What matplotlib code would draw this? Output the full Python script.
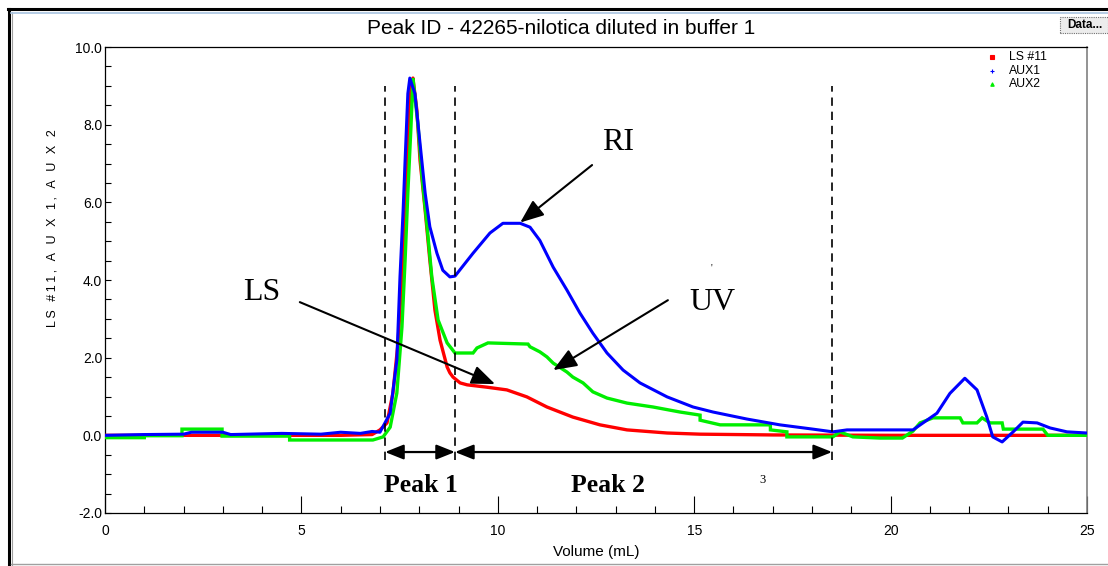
import matplotlib
matplotlib.use("Agg")
import matplotlib.pyplot as plt
from matplotlib.lines import Line2D
from matplotlib.patches import Rectangle
from matplotlib.ticker import MultipleLocator, FormatStrFormatter

W, H = 1108, 566

# ---- LS #11 (light scattering detector) ----
ls_volume = [0.0, 2.0, 4.0, 6.0, 6.8, 7.0, 7.18, 7.33, 7.46, 7.56, 7.64, 7.71, 7.79,
             7.84, 7.94, 8.02, 8.15, 8.27, 8.40, 8.53, 8.71, 8.78, 8.86, 9.04, 9.22,
             9.72, 10.23, 10.74, 11.25, 11.91, 12.60, 13.29, 14.31, 15.15, 17.0, 20.0,
             23.0, 25.0]
ls_signal = [0.0, 0.0, 0.0, 0.0, 0.02, 0.14, 0.32, 1.09, 2.38, 4.08, 5.80, 7.52, 8.96,
             9.20, 8.37, 7.08, 5.80, 4.51, 3.22, 2.45, 1.76, 1.61, 1.50, 1.35, 1.30,
             1.24, 1.17, 0.99, 0.73, 0.47, 0.27, 0.14, 0.06, 0.03, 0.01, 0.0, 0.0, 0.0]

# ---- AUX1 (refractive index detector) ----
ri_volume = [0.0, 1.0, 2.0, 2.2, 3.0, 3.2, 4.5, 5.5, 6.0, 6.5, 6.8, 7.0, 7.26, 7.43,
             7.51, 7.59, 7.64, 7.71, 7.76, 7.89, 8.02, 8.15, 8.27, 8.45, 8.60, 8.78,
             8.91, 9.37, 9.80, 10.13, 10.57, 10.82, 11.07, 11.41, 11.76, 12.09, 12.42,
             12.78, 13.19, 13.62, 14.31, 14.64, 14.97, 15.48, 16.34, 17.18, 18.02,
             18.53, 18.89, 19.73, 20.57, 21.18, 21.51, 21.89, 22.20, 22.45, 22.60,
             22.84, 23.12, 23.37, 23.73, 24.06, 24.49, 25.0]
ri_signal = [0.0, 0.02, 0.03, 0.08, 0.08, 0.02, 0.05, 0.03, 0.08, 0.05, 0.10, 0.08,
             0.57, 1.94, 4.08, 5.80, 7.08, 8.80, 9.20, 8.80, 7.52, 6.24, 5.37, 4.69,
             4.25, 4.08, 4.10, 4.69, 5.21, 5.46, 5.46, 5.36, 5.02, 4.33, 3.74, 3.15,
             2.63, 2.12, 1.68, 1.35, 0.99, 0.86, 0.73, 0.60, 0.42, 0.27, 0.16, 0.09,
             0.14, 0.14, 0.14, 0.57, 1.08, 1.47, 1.17, 0.47, -0.04, -0.17, 0.09, 0.34,
             0.32, 0.19, 0.09, 0.06]

# ---- AUX2 (UV detector, stepped readout) ----
uv_volume = [0.0, 1.0, 1.0, 1.96, 1.96, 2.98, 2.98, 4.70, 4.70, 6.82, 7.08, 7.26, 7.43,
             7.56, 7.64, 7.71, 7.79, 7.84, 7.97, 8.07, 8.20, 8.32, 8.48, 8.71, 8.91,
             9.37, 9.47, 9.75, 10.77, 10.82, 11.07, 11.25, 11.41, 11.76, 11.91, 12.17,
             12.42, 12.78, 13.29, 13.95, 14.64, 15.15, 15.15, 15.66, 16.94, 16.94,
             17.36, 17.36, 18.53, 18.71, 19.04, 19.73, 20.30, 20.57, 20.75, 21.08,
             21.77, 21.84, 22.20, 22.33, 22.53, 22.84, 22.87, 23.88, 24.0, 25.0]
uv_signal = [-0.06, -0.06, -0.01, -0.01, 0.16, 0.16, -0.02, -0.02, -0.12, -0.12, -0.04,
             0.21, 1.09, 2.79, 4.51, 6.24, 7.96, 9.20, 7.96, 6.67, 5.37, 4.08, 2.97,
             2.38, 2.12, 2.12, 2.25, 2.38, 2.35, 2.28, 2.15, 2.02, 1.86, 1.63, 1.50,
             1.35, 1.12, 0.96, 0.83, 0.73, 0.60, 0.52, 0.39, 0.27, 0.27, 0.14, 0.09,
             -0.04, -0.04, 0.09, -0.04, -0.07, -0.07, 0.11, 0.32, 0.45, 0.45, 0.32,
             0.32, 0.45, 0.32, 0.32, 0.16, 0.16, 0.0, 0.0]

# Fraction boundaries (mL)
cut_volumes = [7.13, 8.91, 18.51]
peak_labels = ["Peak 1", "Peak 2"]

series_names = ["LS #11", "AUX1", "AUX2"]
series_colors = ["#ff0000", "#0000ff", "#00ee00"]

plt.rcParams["font.family"] = ["Liberation Sans", "DejaVu Sans"]

fig = plt.figure(figsize=(W / 100, H / 100), dpi=100)
fig.patch.set_facecolor("white")


def fx(px):
    return px / W


def fy(py):
    return 1 - py / H


ax = fig.add_axes([fx(105), fy(513), fx(1087) - fx(105), fy(47) - fy(513)])
ax.set_xlim(0, 25)
ax.set_ylim(-2.0, 10.0)

ax.plot(ls_volume, ls_signal, color=series_colors[0], lw=2.4, zorder=3,
        solid_joinstyle="round")
ax.plot(uv_volume, uv_signal, color=series_colors[2], lw=2.4, zorder=4,
        solid_joinstyle="miter")
ax.plot(ri_volume, ri_signal, color=series_colors[1], lw=2.2, zorder=5,
        solid_joinstyle="round")

# ticks
ax.xaxis.set_major_locator(MultipleLocator(5))
ax.xaxis.set_minor_locator(MultipleLocator(1))
ax.yaxis.set_major_locator(MultipleLocator(2))
ax.yaxis.set_minor_locator(MultipleLocator(0.5))
ax.yaxis.set_major_formatter(FormatStrFormatter("%.1f"))
ax.tick_params(axis="x", which="major", direction="in", length=12, width=0.8,
               labelsize=10, pad=8)
ax.tick_params(axis="x", which="minor", direction="in", length=5, width=0.8)
ax.tick_params(axis="y", which="both", direction="in", length=4.3, width=0.8,
               labelsize=10, pad=2)
for s in ["left", "bottom", "top"]:
    ax.spines[s].set_color("black")
    ax.spines[s].set_linewidth(0.9)
ax.spines["right"].set_color("#808080")
ax.spines["right"].set_linewidth(1.2)

ax.set_xlabel("Volume (mL)", fontsize=11, labelpad=5)
thin = "\u2009"
ylab = thin.join("LS #11, A U X 1, A U X 2")
fig.text(fx(53), fy(228), ylab, rotation=90,
         ha="center", va="center", fontsize=9)
fig.text(fx(561), fy(28), "Peak ID - 42265-nilotica diluted in buffer 1",
         ha="center", va="center", fontsize=15)

# fraction boundaries
for v in cut_volumes:
    ax.plot([v, v], [-0.64, 9.0], color="black", lw=1.2, ls=(0, (5, 3.5)), zorder=6)

arrow_y = -0.43
for a, b in zip(cut_volumes[:-1], cut_volumes[1:]):
    ax.annotate("", xy=(b, arrow_y), xytext=(a, arrow_y),
                arrowprops=dict(arrowstyle="<|-|>,head_length=0.75,head_width=0.3",
                                mutation_scale=15, color="black", lw=1.6,
                                shrinkA=0, shrinkB=0), zorder=7)

serif = ["Liberation Serif", "DejaVu Serif"]
for lbl, xc in zip(peak_labels, [8.04, 12.81]):
    ax.text(xc, -1.30, lbl, ha="center", va="center", fontsize=18.5,
            fontweight="bold", family=serif)
ax.text(16.73, -1.15, "3", ha="center", va="center", fontsize=9, family=serif)

# detector callouts
callouts = [("RI", (13.06, 7.55), (12.40, 6.96), (10.57, 5.48)),
            ("LS", (4.00, 3.69), (4.96, 3.43), (9.93, 1.32)),
            ("UV", (15.47, 3.41), (14.33, 3.48), (11.41, 1.68))]
for txt, tpos, tail, tip in callouts:
    ax.text(tpos[0], tpos[1], txt, ha="center", va="center", fontsize=23,
            family=serif)
    ax.annotate("", xy=tip, xytext=tail,
                arrowprops=dict(arrowstyle="-|>,head_length=0.8,head_width=0.32",
                                mutation_scale=18, color="black", lw=1.5,
                                shrinkA=0, shrinkB=0), zorder=8)
ax.text(15.45, 4.3, "'", ha="center", va="center", fontsize=7, family=serif)

# legend
leg_markers = ["s", "+", "^"]
for i, (name, col, mk) in enumerate(zip(series_names, series_colors, leg_markers)):
    py = 57 + 13.5 * i
    fig.add_artist(Line2D([fx(992)], [fy(py)], marker=mk, color=col, markersize=2.5,
                          markeredgewidth=0.8, linestyle="none",
                          transform=fig.transFigure))
    fig.text(fx(1009), fy(py), name, ha="left", va="center", fontsize=8.8)

# window chrome
fig.add_artist(Line2D([fx(9), fx(9)], [fy(9), fy(566)], color="black", lw=2.2,
                      transform=fig.transFigure))
fig.add_artist(Line2D([fx(11.5), fx(11.5)], [fy(12), fy(566)], color="#a0a0a0",
                      lw=0.8, transform=fig.transFigure))
fig.add_artist(Line2D([fx(8), fx(1108)], [fy(9), fy(9)], color="black", lw=2.2,
                      transform=fig.transFigure))
fig.add_artist(Line2D([fx(11), fx(1108)], [fy(12.5), fy(12.5)], color="#a8c4e0",
                      lw=1.2, transform=fig.transFigure))
fig.add_artist(Line2D([fx(11), fx(1108)], [fy(564), fy(564)], color="#a0a0a0",
                      lw=1.0, transform=fig.transFigure))

# "Data..." button
fig.add_artist(Rectangle((fx(1060), fy(33)), fx(1108) - fx(1060), fy(17) - fy(33),
                         facecolor="#ececec", edgecolor="#707070", lw=0.8,
                         ls=(0, (1, 1)), transform=fig.transFigure))
fig.text(fx(1085), fy(25), "Data...", ha="center", va="center", fontsize=8.5,
         fontweight="bold")

fig.savefig("out.png", dpi=100, facecolor="white")
